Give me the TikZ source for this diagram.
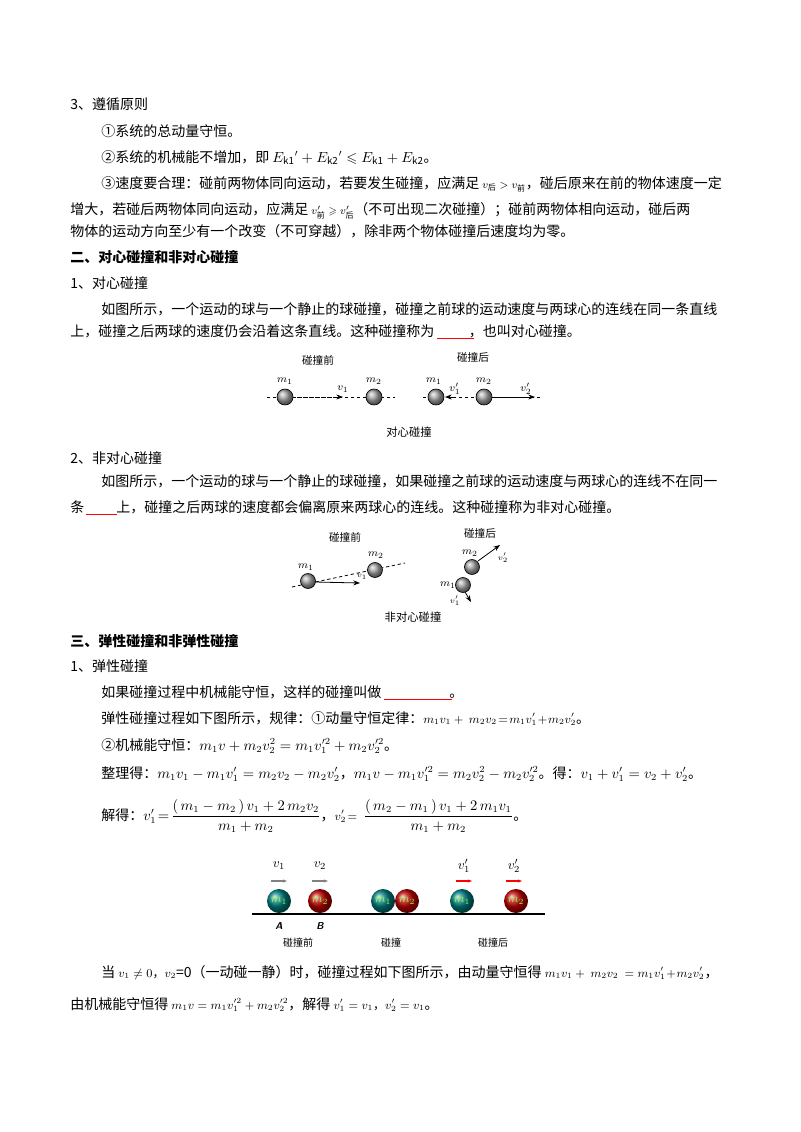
\documentclass[tikz,border=0pt]{standalone}
\usepackage{amsmath,amssymb}
\usepackage{fontspec}
\setmainfont{Noto Sans CJK SC}
\usetikzlibrary{arrows.meta}
\begin{document}
\begin{tikzpicture}[x=0.75pt,y=-0.75pt,
 t/.style={anchor=base west,inner sep=0pt,font=\fontsize{10.5pt}{12pt}\selectfont},
 s/.style={anchor=center,inner sep=0pt,font=\fontsize{8pt}{9pt}\selectfont},
 gb/.style={ball color=gray!70,draw=black,line width=0.5pt},
 dl/.style={dash pattern=on 2.5pt off 2pt,line width=0.6pt},
 arr/.style={-{Stealth[length=5pt]},dash pattern=on 2.5pt off 2pt,line width=0.6pt},
 sarr/.style={-{Stealth[length=5pt]},line width=0.6pt},
 blank/.style={red,line width=0.6pt}]
\useasboundingbox (0,0) rectangle (800,1132);
\node[t] (l1) at (70,109) {3、遵循原则};
\node[t] (l2) at (101,136) {①系统的总动量守恒。};
\node[t] (l3) at (101,162) {②系统的机械能不增加，即 $E_{\mathrm{k1}}{}'+E_{\mathrm{k2}}{}'\leqslant E_{\mathrm{k1}}+E_{\mathrm{k2}}$。};
\node[t] (l4) at (101,188) {③速度要合理：碰前两物体同向运动，若要发生碰撞，应满足 {\footnotesize $v_{\text{后}}>v_{\text{前}}$}，碰后原来在前的物体速度一定};
\node[t] (l5) at (70,214) {增大，若碰后两物体同向运动，应满足 {\footnotesize $v_{\text{前}}'\geqslant v_{\text{后}}'$}（不可出现二次碰撞）；碰前两物体相向运动，碰后两};
\node[t] (l6) at (70,236) {物体的运动方向至少有一个改变（不可穿越），除非两个物体碰撞后速度均为零。};
\node[t,font=\fontsize{10.5pt}{12pt}\bfseries] (h2) at (70,262) {二、对心碰撞和非对心碰撞};
\node[t] (l7) at (70,288) {1、对心碰撞};
\node[t] (l8) at (101,314) {如图所示，一个运动的球与一个静止的球碰撞，碰撞之前球的运动速度与两球心的连线在同一条直线};
\node[t] (l9) at (70,336) {上，碰撞之后两球的速度仍会沿着这条直线。这种碰撞称为\hspace{26pt}，也叫对心碰撞。};
\draw[blank] (437,338) -- (474,338);
% figure 1
\node[s] (f1a) at (318,360) {碰撞前};
\node[s] (f1b) at (473,357) {碰撞后};
\draw[dl] (267,397) -- (395,397);
\draw[dl] (423,397) -- (540,397);
\shade[gb] (285,397) circle (8);
\shade[gb] (374,397) circle (8);
\shade[gb] (436,397) circle (8);
\shade[gb] (484,397) circle (8);
\coordinate (a1s) at (293,397); \coordinate (a1e) at (343,397);
\draw[arr] (a1s) -- (a1e);
\coordinate (a2s) at (456,397); \coordinate (a2e) at (445,397);
\draw[sarr] (a2s) -- (a2e);
\coordinate (a3s) at (492,397); \coordinate (a3e) at (535,397);
\draw[arr] (a3s) -- (a3e);
\node[s] (m11) at (285,381) {$m_1$};
\node[s] (m21) at (374,381) {$m_2$};
\node[s] (m12) at (434,381) {$m_1$};
\node[s] (m22) at (484,381) {$m_2$};
\node[s] (v11) at (343,389) {$v_1$};
\node[s] (v12) at (455,389) {$v_1'$};
\node[s] (v22) at (526,389) {$v_2'$};
\node[s,font=\fontsize{8.5pt}{9pt}\selectfont] (c1) at (409,432) {对心碰撞};
\node[t] (l10) at (70,463) {2、非对心碰撞};
\node[t] (l11) at (101,486) {如图所示，一个运动的球与一个静止的球碰撞，如果碰撞之前球的运动速度与两球心的连线不在同一};
\node[t] (l12) at (70,512) {条\hspace{24pt}上，碰撞之后两球的速度都会偏离原来两球心的连线。这种碰撞称为非对心碰撞。};
\draw[blank] (86,514) -- (117,514);
% figure 2
\node[s] (f2a) at (345,537) {碰撞前};
\node[s] (f2b) at (480,533) {碰撞后};
\draw[dl] (292,587) -- (405,563);
\shade[gb] (308,581) circle (7.5);
\shade[gb] (375,570) circle (7.5);
\coordinate (b1s) at (315,582); \coordinate (b1e) at (360,583);
\draw[sarr] (b1s) -- (b1e);
\node[s] (n1) at (306,567) {$m_1$};
\node[s] (n2) at (376,555) {$m_2$};
\node[s,font=\fontsize{6pt}{7pt}\selectfont] (nv1) at (362,577) {$v_1$};
\shade[gb] (472,567) circle (7.5);
\shade[gb] (463,585) circle (7.5);
\coordinate (b2s) at (478,561); \coordinate (b2e) at (500,545);
\draw[sarr] (b2s) -- (b2e);
\coordinate (b3s) at (465,592); \coordinate (b3e) at (471,602);
\draw[sarr] (b3s) -- (b3e);
\node[s] (n3) at (470,553) {$m_2$};
\node[s] (n4) at (448,585) {$m_1$};
\node[s,font=\fontsize{6pt}{7pt}\selectfont] (nv2) at (503,558) {$v_2'$};
\node[s,font=\fontsize{6pt}{7pt}\selectfont] (nv3) at (455,601) {$v_1'$};
\node[s,font=\fontsize{8.5pt}{9pt}\selectfont] (c2) at (413,617) {非对心碰撞};
\node[t,font=\fontsize{10.5pt}{12pt}\bfseries] (h3) at (70,646) {三、弹性碰撞和非弹性碰撞};
\node[t] (l13) at (70,671) {1、弹性碰撞};
\node[t] (l14) at (101,697) {如果碰撞过程中机械能守恒，这样的碰撞叫做\hspace{51pt}。};
\draw[blank] (384,699) -- (452,699);
\node[t] (l15) at (101,723) {弹性碰撞过程如下图所示，规律：①动量守恒定律：{\small $m_1v_1+\ m_2v_2\!=\!m_1v_1'\!+\!m_2v_2'$}。};
\node[t] (l16) at (101,750) {②机械能守恒：$m_1v+m_2v_2^2=m_1v_1'^2+m_2v_2'^2$。};
\node[t] (l17) at (101,778) {整理得：$m_1v_1-m_1v_1'=m_2v_2-m_2v_2'$，$m_1v-m_1v_1'^2=m_2v_2^2-m_2v_2'^2$。得：$v_1+v_1'=v_2+v_2'$。};
\node[t] (l18) at (101,820) {解得：$v_1'\!=\!\dfrac{(\,m_1-m_2\,)\,v_1+2\,m_2v_2}{m_1+m_2}$，{\small $v_2'\!=$}\ \ $\dfrac{(\,m_2-m_1\,)\,v_1+2\,m_1v_1}{m_1+m_2}$。};
% figure 3
\draw[line width=1.5pt] (252,914) -- (545,914);
\foreach \x/\c/\m/\n in {279/teal/1/p1,320/red!75!black/2/p2,383/teal/1/p3,407/red!75!black/2/p4,462/teal/1/p5,516/red!75!black/2/p6}{
  \shade[ball color=\c] (\x,901) circle (12);
  \node[s,font=\fontsize{9pt}{10pt}\selectfont,text=green!60!yellow!70!white] (\n) at (\x,901) {$m_\m$};
}
\node[s,font=\fontsize{10pt}{11pt}\selectfont] (w1) at (279,866) {$v_1$};
\node[s,font=\fontsize{10pt}{11pt}\selectfont] (w2) at (320,866) {$v_2$};
\node[s,font=\fontsize{10pt}{11pt}\selectfont] (w3) at (464,866) {$v_1'$};
\node[s,font=\fontsize{10pt}{11pt}\selectfont] (w4) at (514,866) {$v_2'$};
\foreach \x/\c in {279/gray,320/gray,464/red,514/red}{
  \draw[-{Stealth[length=3pt]},\c,line width=0.8pt] (\x-8,881) -- (\x+8,881);
}
\node[s,font=\fontsize{7.5pt}{8pt}\bfseries\itshape\sffamily] (A) at (279,926) {A};
\node[s,font=\fontsize{7.5pt}{8pt}\bfseries\itshape\sffamily] (B) at (320,926) {B};
\node[s,font=\fontsize{7.5pt}{8pt}\selectfont] (d1) at (298,943) {碰撞前};
\node[s,font=\fontsize{7.5pt}{8pt}\selectfont] (d2) at (391,943) {碰撞};
\node[s,font=\fontsize{7.5pt}{8pt}\selectfont] (d3) at (493,943) {碰撞后};
\node[t] (l19) at (101,977) {当 {\small $v_1\neq0$，$v_2$}=0（一动碰一静）时，碰撞过程如下图所示，由动量守恒得 {\small $m_1v_1+\ m_2v_2\ =m_1v_1'\!+\!m_2v_2'$}，};
\node[t] (l20) at (70,1009) {由机械能守恒得 {\small $m_1v=m_1v_1'^2+m_2v_2'^2$}，解得 {\small $v_1'=v_1$，$v_2'=v_1$}。};
\end{tikzpicture}
\end{document}
